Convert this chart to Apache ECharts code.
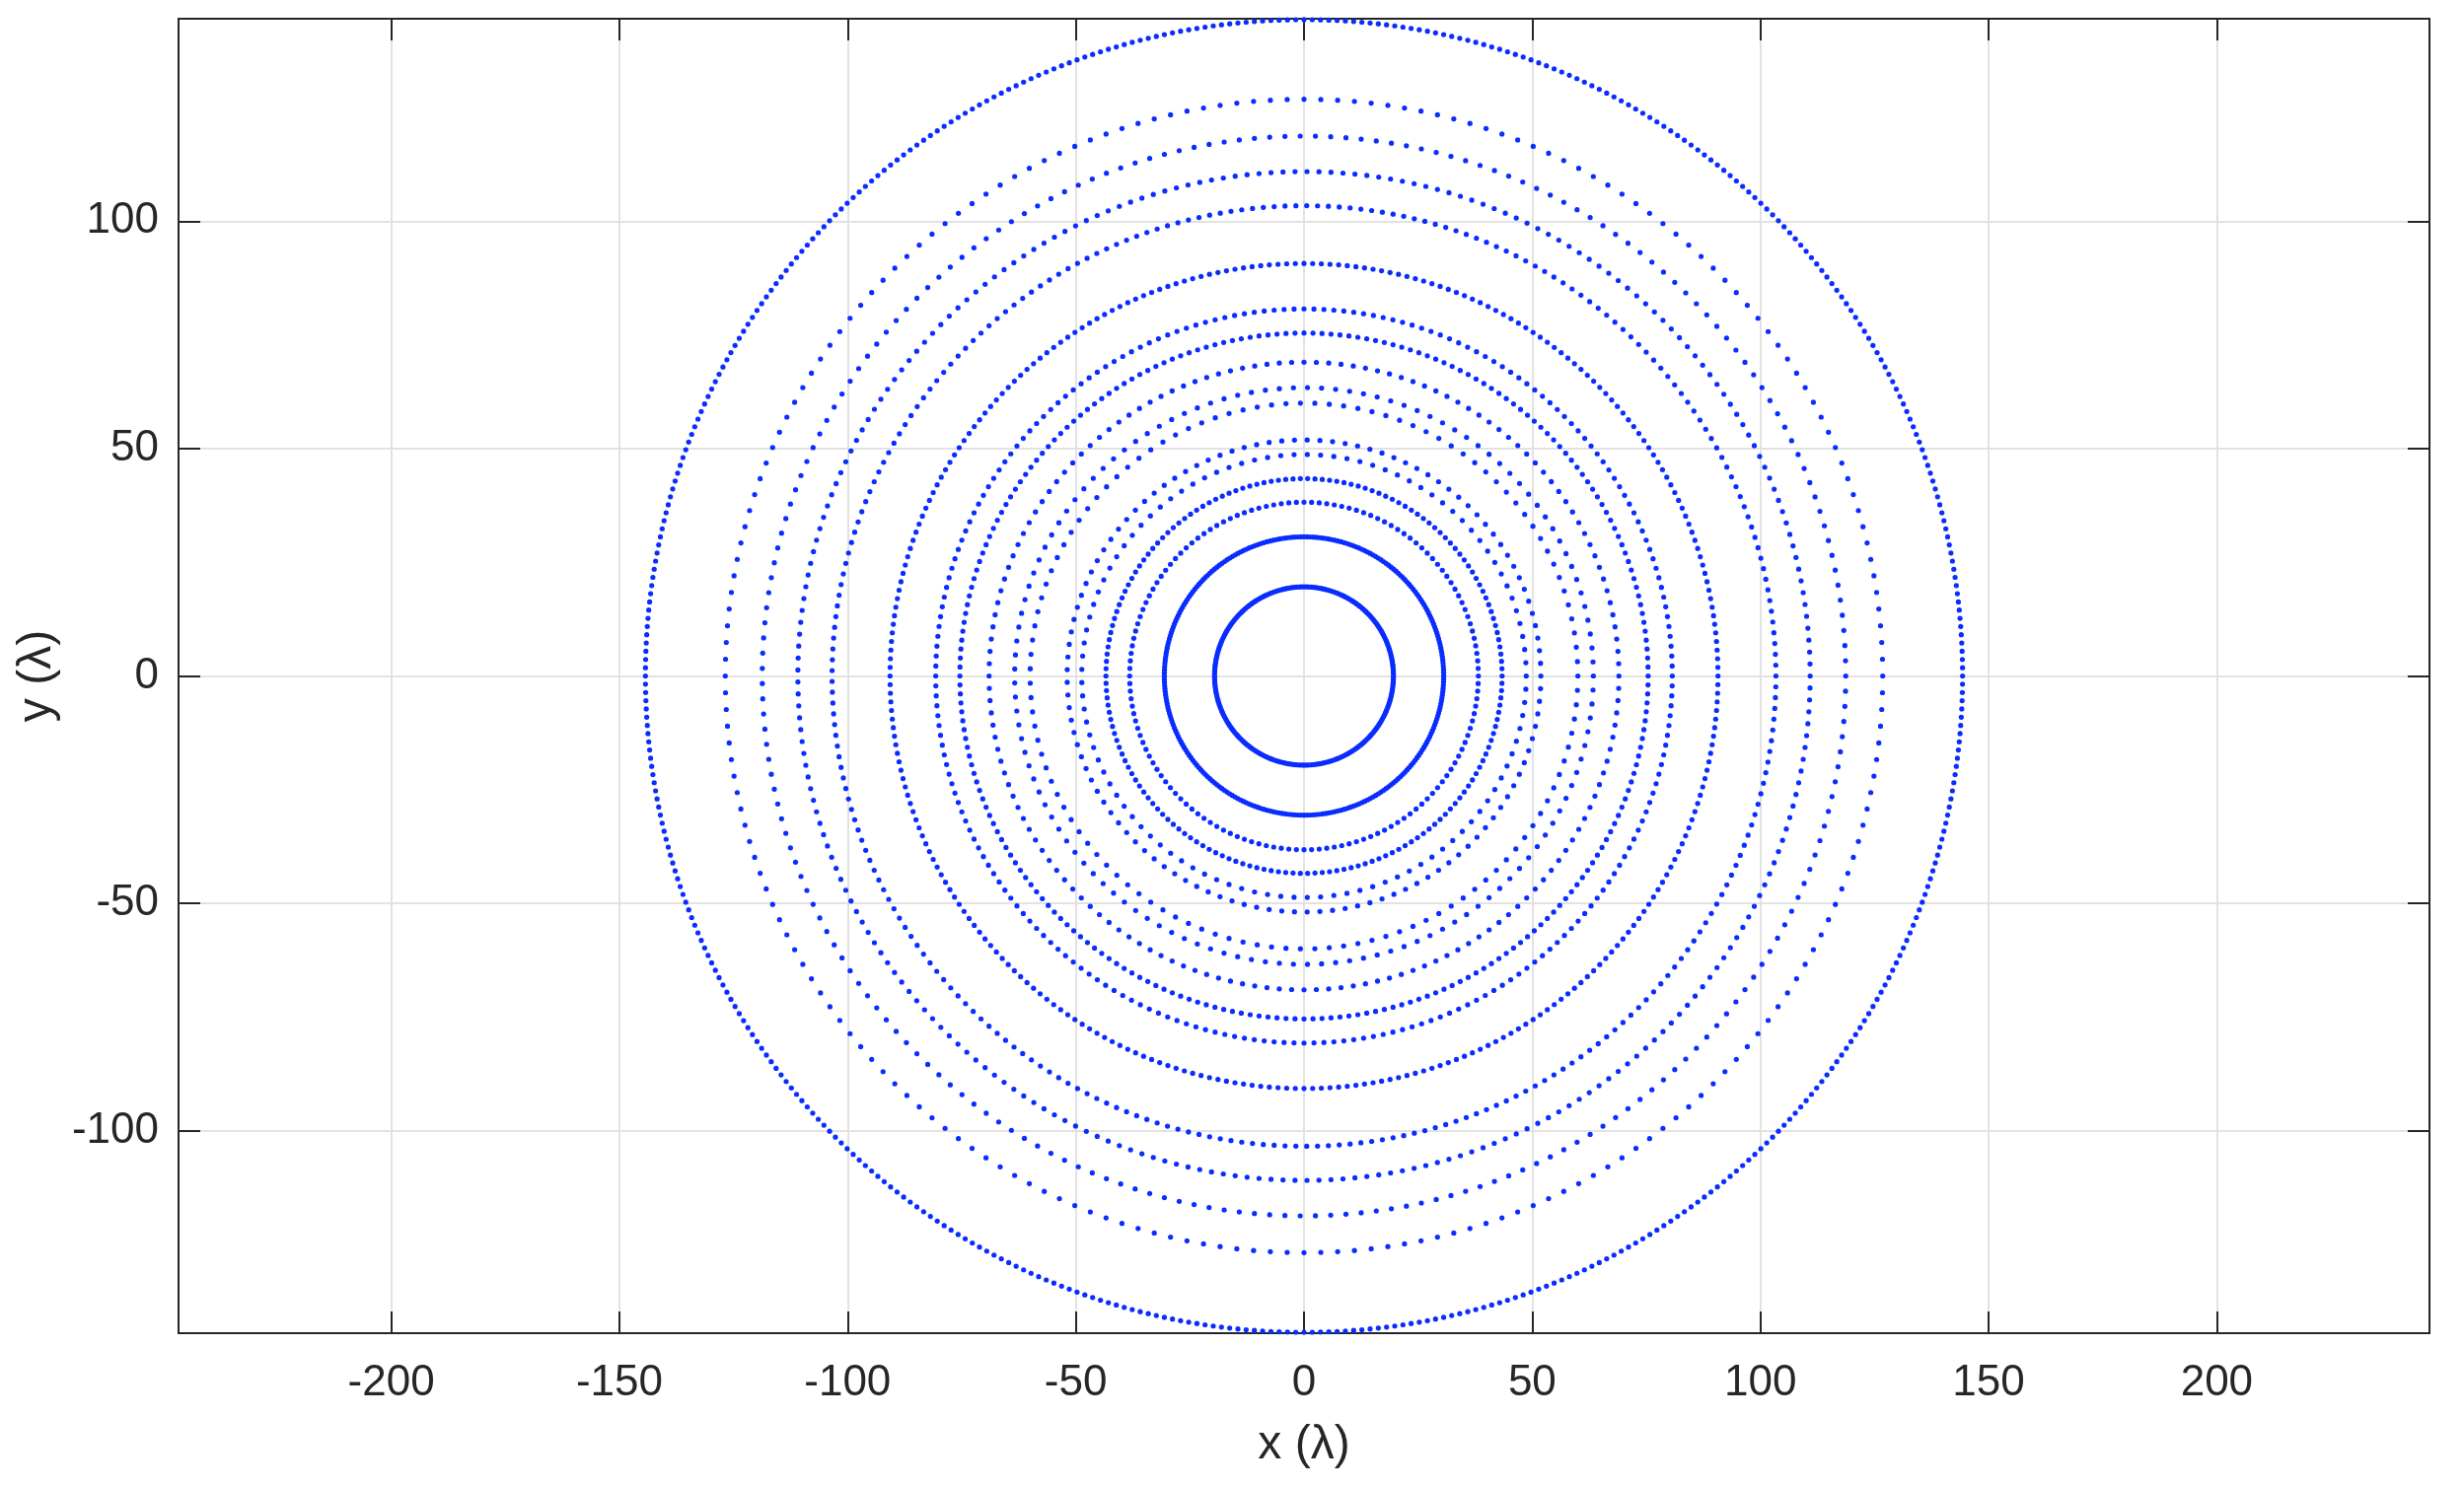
<!DOCTYPE html>
<html>
<head>
<meta charset="utf-8">
<script src="https://cdn.jsdelivr.net/npm/echarts@6/dist/echarts.min.js"></script>
<style>
  html, body { margin: 0; padding: 0; background: #fff; }
  #main { width: 2498px; height: 1509px; }
</style>
</head>
<body>
<div id="main"></div>
<script>
// ring radii (in wavelengths) and number of elements on each ring
var ringRadius = [19.6, 30.6, 38.2, 43.4, 48.7, 51.9, 60.0, 63.4, 69.0, 75.4, 80.7, 90.7, 103.4, 110.9, 118.7, 126.8, 144.3];
var ringCount  = [250, 280, 144, 170, 105, 117, 119, 129, 160, 240, 232, 300, 273, 265, 223, 216, 500];

var xRange = [-246.6, 246.6];
var yRange = [-144.5, 144.5];

var xName = 'x (λ)';
var yName = 'y (λ)';

// points on every ring, evenly spaced in angle
var points = [];
for (var i = 0; i < ringRadius.length; i++) {
    var r = ringRadius[i], n = ringCount[i];
    for (var k = 0; k < n; k++) {
        var a = 2 * Math.PI * k / n;
        points.push([r * Math.cos(a), r * Math.sin(a)]);
    }
}

var myChart = echarts.init(document.getElementById('main'), null, { renderer: 'canvas' });

var textColor = '#262626';
var font = 'Liberation Sans, Arial, Helvetica, sans-serif';

function intLabel(v) {
    return Math.abs(v - Math.round(v)) < 1e-6 ? String(Math.round(v)) : '';
}

var option = {
    animation: false,
    backgroundColor: '#ffffff',
    grid: {
        left: 181,
        right: 35,
        top: 19,
        bottom: 157,
        show: true,
        borderColor: textColor,
        borderWidth: 2,
        backgroundColor: '#ffffff'
    },
    xAxis: [{
        type: 'value',
        min: xRange[0],
        max: xRange[1],
        splitNumber: 10,
        position: 'bottom',
        name: xName,
        nameLocation: 'middle',
        nameGap: 90,
        nameTextStyle: { color: textColor, fontSize: 48, fontFamily: font },
        axisLine: { show: true, onZero: false, lineStyle: { color: textColor, width: 2 } },
        axisTick: { show: true, inside: true, length: 22, lineStyle: { color: textColor, width: 2 } },
        axisLabel: {
            show: true, color: textColor, fontSize: 44, fontFamily: font, margin: 29,
            showMinLabel: false, showMaxLabel: false, formatter: intLabel
        },
        splitLine: { show: true, lineStyle: { color: '#e2e2e2', width: 2 } }
    }, {
        type: 'value',
        min: xRange[0],
        max: xRange[1],
        splitNumber: 10,
        position: 'top',
        axisLine: { show: true, onZero: false, lineStyle: { color: textColor, width: 2 } },
        axisTick: { show: true, inside: true, length: 22, lineStyle: { color: textColor, width: 2 } },
        axisLabel: { show: false },
        splitLine: { show: false }
    }],
    yAxis: [{
        type: 'value',
        min: yRange[0],
        max: yRange[1],
        splitNumber: 5,
        position: 'left',
        name: yName,
        nameLocation: 'middle',
        nameGap: 114,
        nameTextStyle: { color: textColor, fontSize: 48, fontFamily: font },
        axisLine: { show: true, onZero: false, lineStyle: { color: textColor, width: 2 } },
        axisTick: { show: true, inside: true, length: 22, lineStyle: { color: textColor, width: 2 } },
        axisLabel: {
            show: true, color: textColor, fontSize: 44, fontFamily: font, margin: 20,
            showMinLabel: false, showMaxLabel: false, formatter: intLabel
        },
        splitLine: { show: true, lineStyle: { color: '#e2e2e2', width: 2 } }
    }, {
        type: 'value',
        min: yRange[0],
        max: yRange[1],
        splitNumber: 5,
        position: 'right',
        axisLine: { show: true, onZero: false, lineStyle: { color: textColor, width: 2 } },
        axisTick: { show: true, inside: true, length: 22, lineStyle: { color: textColor, width: 2 } },
        axisLabel: { show: false },
        splitLine: { show: false }
    }],
    series: [{
        name: 'elements',
        type: 'scatter',
        xAxisIndex: 0,
        yAxisIndex: 0,
        data: points,
        symbol: 'circle',
        symbolSize: 5.2,
        silent: true,
        itemStyle: { color: '#0a2cff', opacity: 1 }
    }]
};

myChart.setOption(option);
window.addEventListener('resize', function () {
    myChart.resize();
});
</script>
</body>
</html>
